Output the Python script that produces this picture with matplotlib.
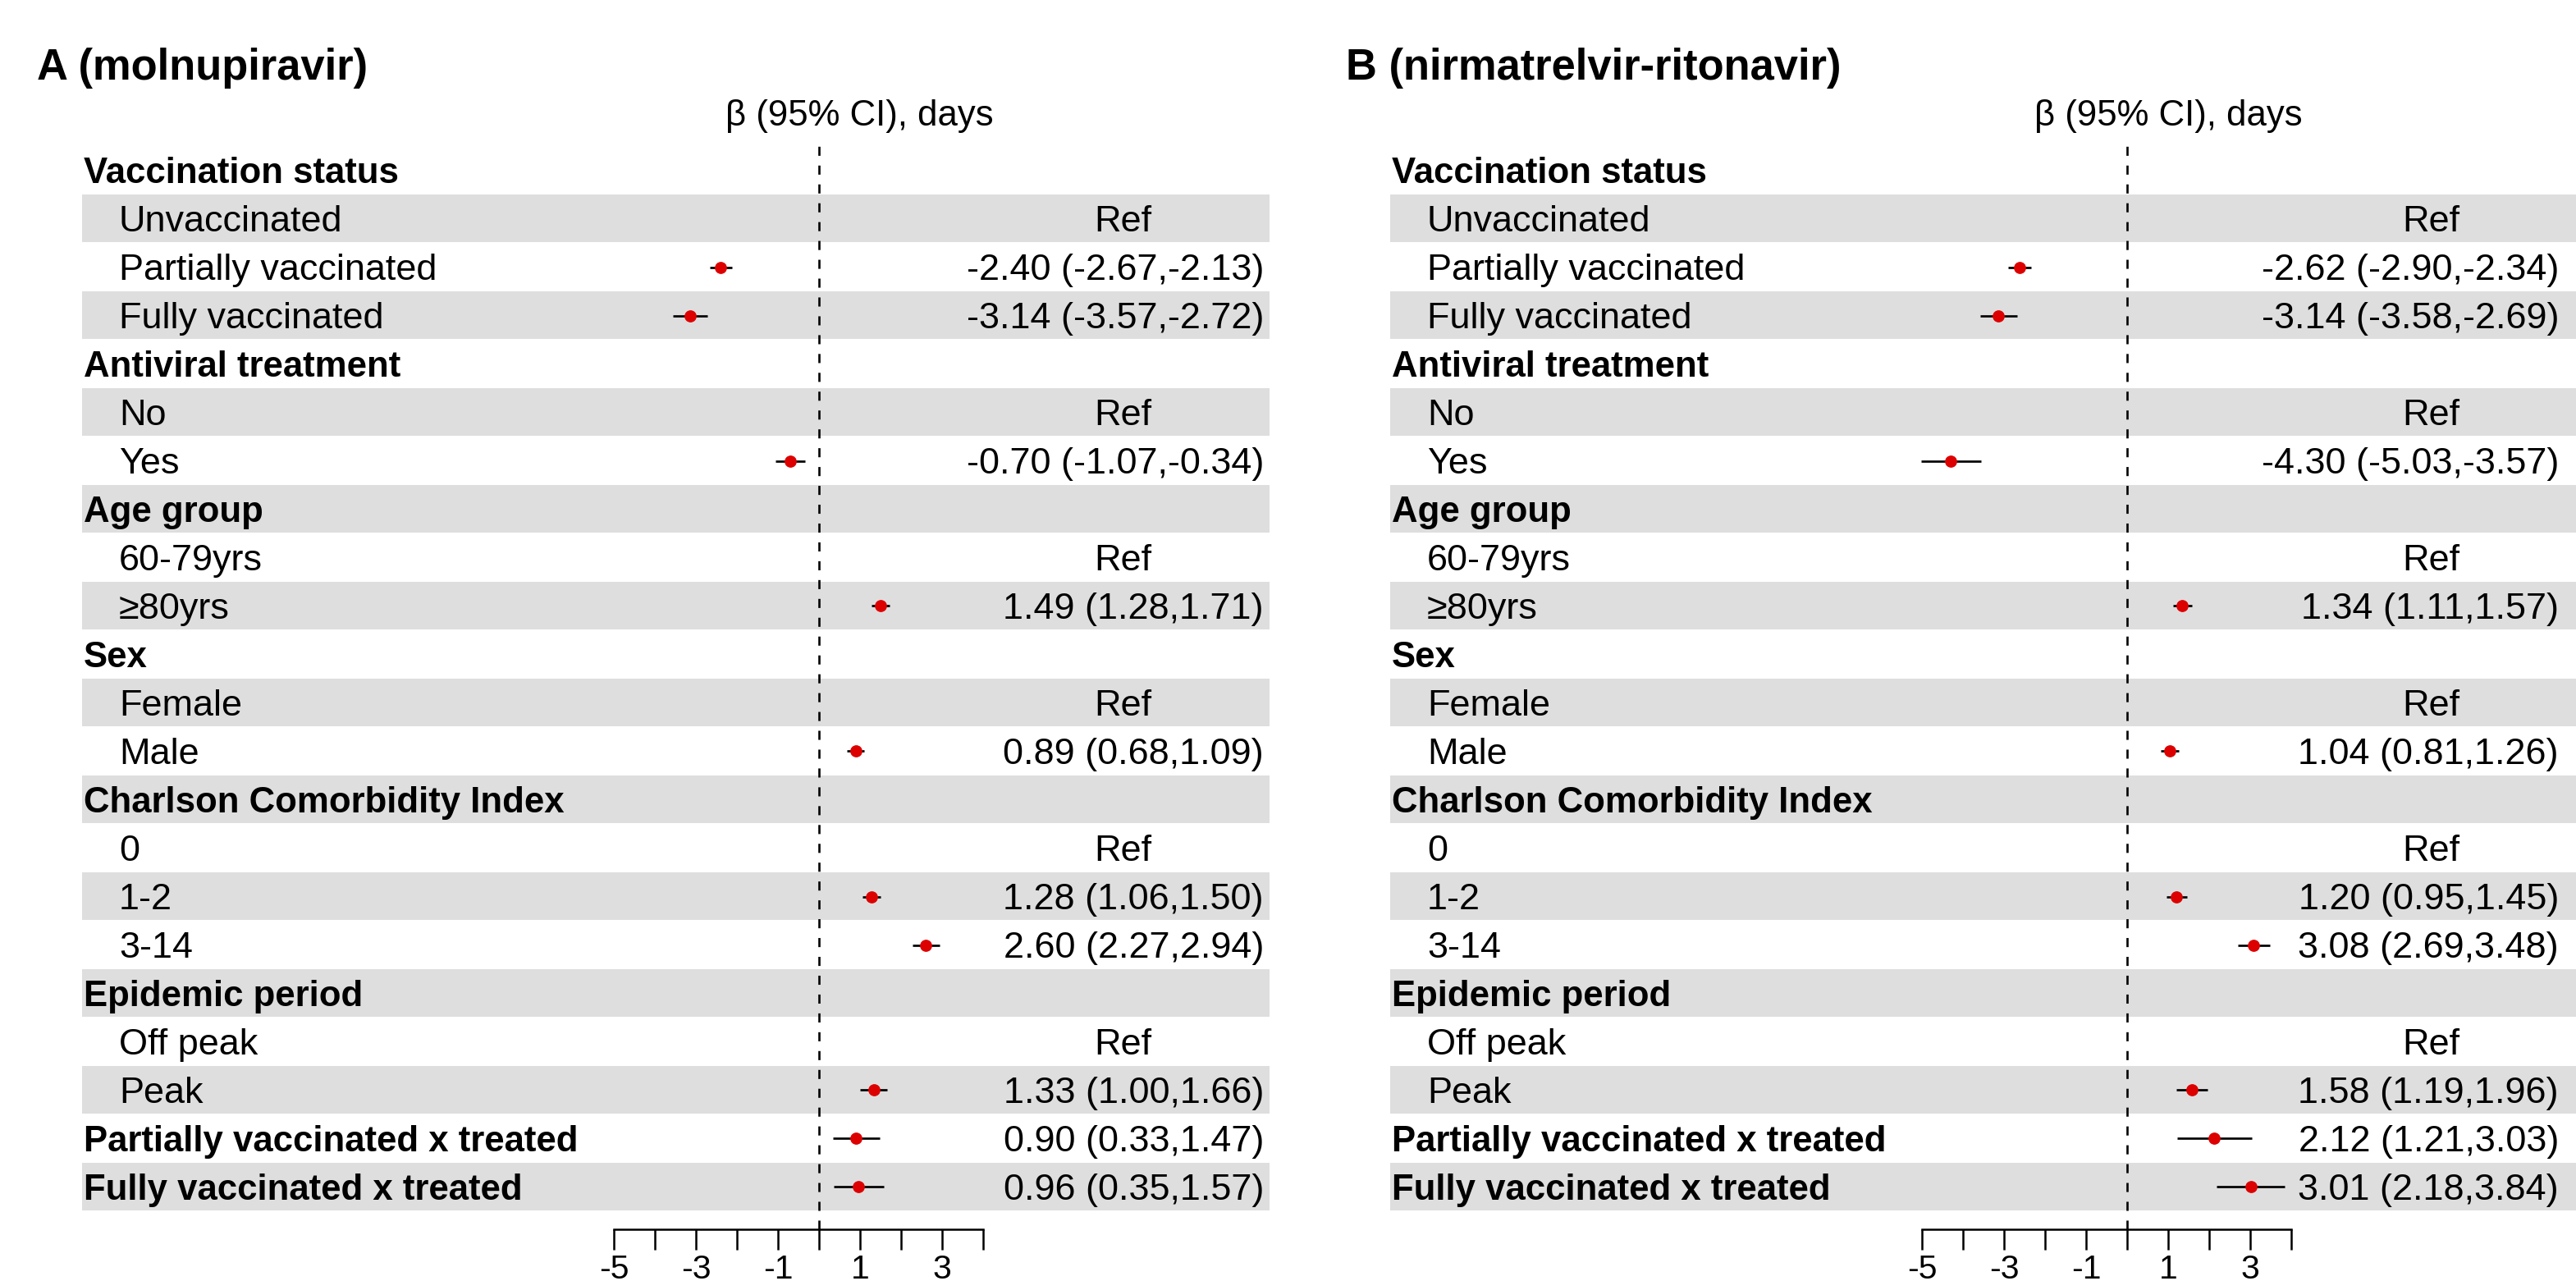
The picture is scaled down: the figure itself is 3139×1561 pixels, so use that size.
import numpy as np
import matplotlib
matplotlib.use("Agg")
import matplotlib.pyplot as plt
from matplotlib.patches import Rectangle

plt.rcParams['font.family'] = ['Liberation Sans', 'DejaVu Sans']

# ---------------- data ----------------
labels = ["Vaccination status", "Unvaccinated", "Partially vaccinated", "Fully vaccinated",
          "Antiviral treatment", "No", "Yes",
          "Age group", "60-79yrs", "\u226580yrs",
          "Sex", "Female", "Male",
          "Charlson Comorbidity Index", "0", "1-2", "3-14",
          "Epidemic period", "Off peak", "Peak",
          "Partially vaccinated x treated", "Fully vaccinated x treated"]
is_group = [1, 0, 0, 0, 1, 0, 0, 1, 0, 0, 1, 0, 0, 1, 0, 0, 0, 1, 0, 0, 1, 1]
is_ref = [0, 1, 0, 0, 0, 1, 0, 0, 1, 0, 0, 1, 0, 0, 1, 0, 0, 0, 1, 0, 0, 0]

nan = np.nan
A_est = [nan, nan, -2.40, -3.14, nan, nan, -0.70, nan, nan, 1.49, nan, nan, 0.89,
         nan, nan, 1.28, 2.60, nan, nan, 1.33, 0.90, 0.96]
A_lo = [nan, nan, -2.67, -3.57, nan, nan, -1.07, nan, nan, 1.28, nan, nan, 0.68,
        nan, nan, 1.06, 2.27, nan, nan, 1.00, 0.33, 0.35]
A_hi = [nan, nan, -2.13, -2.72, nan, nan, -0.34, nan, nan, 1.71, nan, nan, 1.09,
        nan, nan, 1.50, 2.94, nan, nan, 1.66, 1.47, 1.57]

B_est = [nan, nan, -2.62, -3.14, nan, nan, -4.30, nan, nan, 1.34, nan, nan, 1.04,
         nan, nan, 1.20, 3.08, nan, nan, 1.58, 2.12, 3.01]
B_lo = [nan, nan, -2.90, -3.58, nan, nan, -5.03, nan, nan, 1.11, nan, nan, 0.81,
        nan, nan, 0.95, 2.69, nan, nan, 1.19, 1.21, 2.18]
B_hi = [nan, nan, -2.34, -2.69, nan, nan, -3.57, nan, nan, 1.57, nan, nan, 1.26,
        nan, nan, 1.45, 3.48, nan, nan, 1.96, 3.03, 3.84]

titles = ["A (molnupiravir)", "B (nirmatrelvir-ritonavir)"]
header = "\u03b2 (95% CI), days"
xticks = [-5, -4, -3, -2, -1, 0, 1, 2, 3, 4]
xtick_labels = ["-5", "", "-3", "", "-1", "", "1", "", "3", ""]

# ---------------- layout ----------------
W, H = 3139, 1561
DPI = 100
fig = plt.figure(figsize=(W / DPI, H / DPI), dpi=DPI)
bg = fig.add_axes([0, 0, 1, 1])
bg.set_xlim(0, W)
bg.set_ylim(H, 0)
bg.axis('off')

ROW0 = 178
ROWH = 59
AXIS_Y = 1498
FS = 32.4        # regular row text size (pt)
FS_B = 31.5      # bold group labels
FS_H = 31.5      # header
TITLE_FS = 37.8
TICK_FS = 29.5
BAND = '#DEDEDE'
RED = '#DD0000'

panels = [
    dict(title_x=45, band=(100, 1547), lab_x=102, zero=998, est_right=1540,
         ref_c=1368, hdr_x=884, est=A_est, lo=A_lo, hi=A_hi, title=titles[0]),
    dict(title_x=1640, band=(1694, 3139), lab_x=1696, zero=2592, est_right=3118,
         ref_c=2962, hdr_x=2479, est=B_est, lo=B_lo, hi=B_hi, title=titles[1]),
]

n = len(labels)
PX_PER_UNIT = 50

for p in panels:
    # bands
    x0, x1 = p['band']
    for i in range(n):
        if i % 2 == 1:
            bg.add_patch(Rectangle((x0, ROW0 + ROWH * i), x1 - x0, ROWH - 1,
                                   facecolor=BAND, edgecolor='none', zorder=0))
    # title and header
    bg.text(p['title_x'], 97, p['title'], fontsize=TITLE_FS, fontweight='bold',
            va='baseline', ha='left')
    bg.text(p['hdr_x'], 153, header, fontsize=FS_H, va='baseline', ha='left')

    # row texts
    for i in range(n):
        base = ROW0 + ROWH * (i + 0.5) + 15.8
        if is_group[i]:
            bg.text(p['lab_x'], base, labels[i], fontsize=FS_B, fontweight='bold',
                    va='baseline', ha='left')
        else:
            bg.text(p['lab_x'] + 43, base, labels[i], fontsize=FS,
                    va='baseline', ha='left')
        if is_ref[i]:
            bg.text(p['ref_c'], base, "Ref", fontsize=FS, va='baseline', ha='center')
        elif not np.isnan(p['est'][i]):
            s = f"{p['est'][i]:.2f} ({p['lo'][i]:.2f},{p['hi'][i]:.2f})"
            bg.text(p['est_right'], base, s, fontsize=FS, va='baseline', ha='right')

    # forest axes
    left_px = p['zero'] - 5 * PX_PER_UNIT
    width_px = 9 * PX_PER_UNIT
    ax = fig.add_axes([left_px / W, (H - AXIS_Y) / H, width_px / W, (AXIS_Y - ROW0) / H])
    ax.patch.set_visible(False)
    ax.set_xlim(-5, 4)
    ax.set_ylim(-0.5 + (AXIS_Y - ROW0) / ROWH, -0.5)
    ys = np.arange(n)
    est = np.array(p['est'])
    lo = np.array(p['lo'])
    hi = np.array(p['hi'])
    m = ~np.isnan(est)
    ax.axvline(0, color='black', lw=1.9, dashes=(4.2, 4.5), zorder=1)
    ax.hlines(ys[m], lo[m], hi[m], color='black', lw=1.95, zorder=2, clip_on=False)
    ax.plot(est[m], ys[m], 'o', color=RED, ms=9.6, mec=RED, zorder=3, clip_on=False)

    for s in ['top', 'right', 'left']:
        ax.spines[s].set_visible(False)
    ax.spines['bottom'].set_linewidth(1.8)
    ax.spines['bottom'].set_bounds(-5, 4)
    ax.set_yticks([])
    ax.set_xticks(xticks)
    ax.set_xticklabels(xtick_labels)
    ax.tick_params(axis='x', length=18, width=1.8, direction='out', pad=3.6,
                   labelsize=TICK_FS)

fig.savefig("out.png", dpi=DPI)
